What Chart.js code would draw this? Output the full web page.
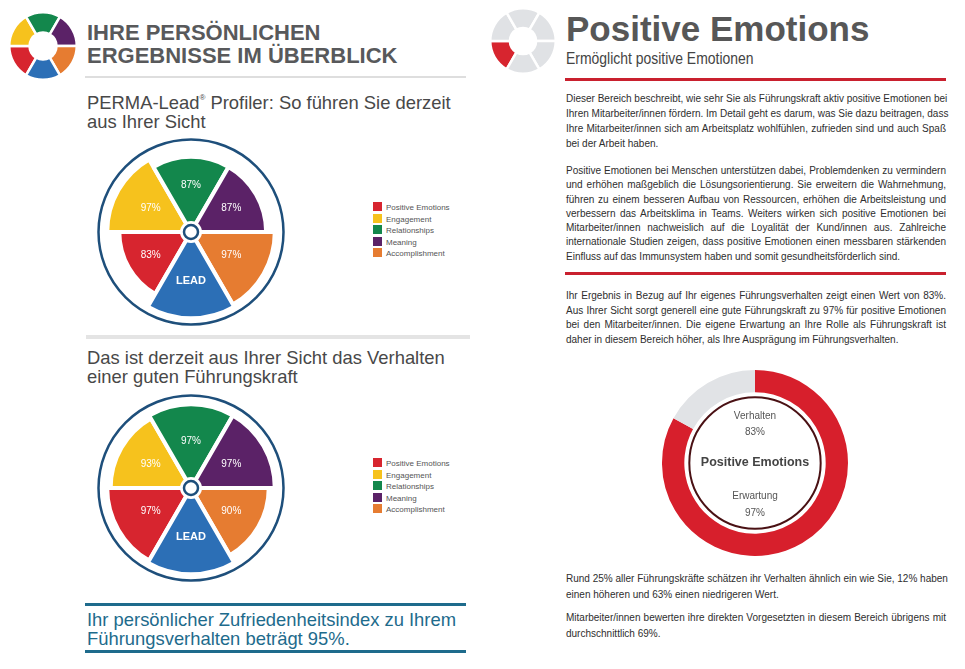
<!DOCTYPE html>
<html>
<head>
<meta charset="utf-8">
<script src="https://cdn.jsdelivr.net/npm/chart.js@4.4.1/dist/chart.umd.min.js"></script>
<style>
body { margin: 0; background: #fff; font-family: "Liberation Sans", Arial, sans-serif; }
#page { position: relative; width: 965px; height: 669px; overflow: hidden; background: #fff; }
.abs { position: absolute; }
canvas { position: absolute; }
.title { left: 87px; font-size: 22px; line-height: 22px; font-weight: bold; color: #58595b; white-space: nowrap; }
.sub { left: 87px; font-size: 18.4px; line-height: 19px; color: #484848; white-space: nowrap; }
.sub sup { font-size: 8px; vertical-align: 9px; line-height: 0; }
.rule { background: #dedede; }
.legend { left: 373px; font-size: 8px; color: #555; }
.legend div { height: 11.5px; line-height: 11.5px; white-space: nowrap; }
.legend span { display: inline-block; width: 9px; height: 9px; margin-right: 4px; vertical-align: -1px; }
.teal { left: 87px; top: 610px; font-size: 18.4px; line-height: 19px; color: #1e6b8c; white-space: nowrap; }
.tealrule { left: 85px; width: 381px; height: 3px; background: #1e6b8c; }
.redrule { left: 565px; width: 381px; height: 3px; background: #c9202e; }
.para { left: 566px; width: 380px; font-size: 10px; line-height: 15px; color: #2e2e2e; }
.para div { text-align: justify; text-align-last: justify; white-space: nowrap; }
.para div.last { text-align-last: left; }
</style>
</head>
<body>
<div id="page">
  <canvas id="logoLeft" width="70" height="70" style="left:8px;top:11px"></canvas>
  <div class="abs title" style="top:22px">IHRE PERSÖNLICHEN</div>
  <div class="abs title" style="top:45px">ERGEBNISSE IM ÜBERBLICK</div>
  <div class="abs rule" style="left:85px;top:76px;width:381px;height:2px"></div>
  <div class="abs sub" style="top:93px">PERMA-Lead<sup>®</sup> Profiler: So führen Sie derzeit<br>aus Ihrer Sicht</div>
  <canvas id="wheelSelf" width="190" height="190" style="left:96px;top:137px"></canvas>
  <div class="abs legend" id="legendSelf" style="top:202px"></div>
  <div class="abs rule" style="left:86px;top:335px;width:384px;height:4px;background:#e4e4e4"></div>
  <div class="abs sub" style="top:348px">Das ist derzeit aus Ihrer Sicht das Verhalten<br>einer guten Führungskraft</div>
  <canvas id="wheelIdeal" width="190" height="190" style="left:96px;top:393px"></canvas>
  <div class="abs legend" id="legendIdeal" style="top:458px"></div>
  <div class="abs tealrule" style="top:603px"></div>
  <div class="abs teal" id="indexText"></div>
  <div class="abs tealrule" style="top:650px"></div>

  <canvas id="logoRight" width="68" height="68" style="left:489px;top:7px"></canvas>
  <div class="abs" style="left:566px;top:11px;font-size:35px;line-height:35px;font-weight:bold;color:#575757;white-space:nowrap">Positive Emotions</div>
  <div class="abs" style="left:566px;top:50px;font-size:17px;line-height:17px;color:#444;white-space:nowrap;transform:scaleX(0.82);transform-origin:left top">Ermöglicht positive Emotionen</div>
  <div class="abs redrule" style="top:78px"></div>

  <div class="abs para" style="top:91px">
    <div>Dieser Bereich beschreibt, wie sehr Sie als Führungskraft aktiv positive Emotionen bei</div>
    <div>Ihren Mitarbeiter/innen fördern. Im Detail geht es darum, was Sie dazu beitragen, dass</div>
    <div>Ihre Mitarbeiter/innen sich am Arbeitsplatz wohlfühlen, zufrieden sind und auch Spaß</div>
    <div class="last">bei der Arbeit haben.</div>
  </div>
  <div class="abs para" style="top:164px;line-height:14.3px">
    <div>Positive Emotionen bei Menschen unterstützen dabei, Problemdenken zu vermindern</div>
    <div>und erhöhen maßgeblich die Lösungsorientierung. Sie erweitern die Wahrnehmung,</div>
    <div>führen zu einem besseren Aufbau von Ressourcen, erhöhen die Arbeitsleistung und</div>
    <div>verbessern das Arbeitsklima in Teams. Weiters wirken sich positive Emotionen bei</div>
    <div>Mitarbeiter/innen nachweislich auf die Loyalität der Kund/innen aus. Zahlreiche</div>
    <div>internationale Studien zeigen, dass positive Emotionen einen messbaren stärkenden</div>
    <div class="last">Einfluss auf das Immunsystem haben und somit gesundheitsförderlich sind.</div>
  </div>
  <div class="abs redrule" style="top:272px"></div>
  <div class="abs para" style="top:289px;line-height:14.7px" id="resultText"></div>

  <canvas id="focusDonut" width="186" height="186" style="left:662px;top:370px"></canvas>

  <div class="abs para" style="top:571px;line-height:16px">
    <div>Rund 25% aller Führungskräfte schätzen ihr Verhalten ähnlich ein wie Sie, 12% haben</div>
    <div class="last">einen höheren und 63% einen niedrigeren Wert.</div>
  </div>
  <div class="abs para" style="top:610px;line-height:16px">
    <div>Mitarbeiter/innen bewerten ihre direkten Vorgesetzten in diesem Bereich übrigens mit</div>
    <div class="last">durchschnittlich 69%.</div>
  </div>
</div>

<script>
// PERMA-Lead Kategorien und Werte
let categories = ['Positive Emotions', 'Engagement', 'Relationships', 'Meaning', 'Accomplishment'];
let selfValues = [83, 97, 87, 87, 97];    // so führen Sie derzeit
let idealValues = [97, 93, 97, 97, 90];   // Verhalten einer guten Führungskraft
let leadLabel = 'LEAD';
let leadValue = 100;
let logoParts = [1, 1, 1, 1, 1, 1];

// Detailseite Positive Emotions
let focusName = 'Positive Emotions';
let behaviourValue = 83;   // Verhalten
let expectationValue = 97; // Erwartung
let indexValue = 95;

let segColors = ['#d7252f', '#f6c21d', '#13874c', '#5b2267', '#e67c31', '#2c6fb6'];
let navy = '#1e4f7b';

document.querySelector('#indexText').innerHTML =
  'Ihr persönlicher Zufriedenheitsindex zu Ihrem<br>Führungsverhalten beträgt ' + indexValue + '%.';

document.querySelector('#resultText').innerHTML =
  '<div>Ihr Ergebnis in Bezug auf Ihr eigenes Führungsverhalten zeigt einen Wert von ' + behaviourValue + '%.</div>' +
  '<div>Aus Ihrer Sicht sorgt generell eine gute Führungskraft zu ' + expectationValue + '% für positive Emotionen</div>' +
  '<div>bei den Mitarbeiter/innen. Die eigene Erwartung an Ihre Rolle als Führungskraft ist</div>' +
  '<div class="last">daher in diesem Bereich höher, als Ihre Ausprägung im Führungsverhalten.</div>';

// Legenden
['#legendSelf', '#legendIdeal'].forEach(sel => {
  let box = document.querySelector(sel);
  categories.forEach((cat, i) => {
    let row = document.createElement('div');
    let sw = document.createElement('span');
    sw.style.background = segColors[i];
    row.appendChild(sw);
    row.appendChild(document.createTextNode(cat));
    box.appendChild(row);
  });
});

// Rahmen, Nabe und Prozentwerte im Rad
let wheelDeco = {
  id: 'wheelDeco',
  afterDatasetsDraw(chart) {
    let ctx = chart.ctx;
    let s = chart.scales.r;
    let cx = s.xCenter, cy = s.yCenter, R = s.drawingArea;
    ctx.save();
    ctx.strokeStyle = navy;
    ctx.lineWidth = 2.5;
    ctx.beginPath();
    ctx.arc(cx, cy, R - 2.5, 0, Math.PI * 2);
    ctx.stroke();
    ctx.fillStyle = '#fff';
    ctx.beginPath();
    ctx.arc(cx, cy, 11, 0, Math.PI * 2);
    ctx.fill();
    ctx.beginPath();
    ctx.arc(cx, cy, 7, 0, Math.PI * 2);
    ctx.stroke();
    ctx.fillStyle = '#fff';
    ctx.textAlign = 'center';
    ctx.textBaseline = 'middle';
    let vals = chart.data.datasets[0].data;
    chart.getDatasetMeta(0).data.forEach((arc, i) => {
      let a = (arc.startAngle + arc.endAngle) / 2;
      let isLead = i === categories.length;
      let rr = R * (isLead ? 0.52 : 0.49);
      ctx.font = (isLead ? 'bold 11px' : '10px') + ' "Liberation Sans", Arial, sans-serif';
      ctx.fillText(isLead ? leadLabel : vals[i] + '%', cx + Math.cos(a) * rr, cy + Math.sin(a) * rr);
    });
    ctx.restore();
  }
};

function makeWheel(id, values) {
  return new Chart(document.querySelector(id), {
    type: 'polarArea',
    data: {
      labels: categories.concat([leadLabel]),
      datasets: [{
        data: values.concat([leadValue]),
        backgroundColor: segColors,
        borderColor: '#fff',
        borderWidth: 4
      }]
    },
    options: {
      responsive: false,
      animation: false,
      layout: { padding: 0 },
      plugins: { legend: { display: false }, tooltip: { enabled: false } },
      scales: { r: { min: 0, max: 110, startAngle: 210, display: false } }
    },
    plugins: [wheelDeco]
  });
}

makeWheel('#wheelSelf', selfValues);
makeWheel('#wheelIdeal', idealValues);

function makeLogo(id, colors) {
  return new Chart(document.querySelector(id), {
    type: 'doughnut',
    data: {
      labels: categories.concat([leadLabel]),
      datasets: [{ data: logoParts, backgroundColor: colors, borderColor: '#fff', borderWidth: 2.5 }]
    },
    options: {
      responsive: false,
      animation: false,
      rotation: 210,
      cutout: '40%',
      plugins: { legend: { display: false }, tooltip: { enabled: false } }
    }
  });
}

makeLogo('#logoLeft', segColors);
makeLogo('#logoRight', segColors.map((c, i) => i === 0 ? '#d7252f' : '#e0e2e5'));

// Ring Positive Emotions
let donutCenter = {
  id: 'donutCenter',
  afterDatasetsDraw(chart) {
    let ctx = chart.ctx;
    let arc = chart.getDatasetMeta(0).data[0];
    let cx = arc.x, cy = arc.y;
    ctx.save();
    ctx.strokeStyle = '#4a1114';
    ctx.lineWidth = 2;
    ctx.beginPath();
    ctx.arc(cx, cy, arc.innerRadius - 5, 0, Math.PI * 2);
    ctx.stroke();
    ctx.textAlign = 'center';
    ctx.textBaseline = 'middle';
    ctx.fillStyle = '#555';
    ctx.font = '10px "Liberation Sans", Arial, sans-serif';
    ctx.fillText('Verhalten', cx, cy - 47);
    ctx.fillText(behaviourValue + '%', cx, cy - 31);
    ctx.fillText('Erwartung', cx, cy + 33);
    ctx.fillText(expectationValue + '%', cx, cy + 50);
    ctx.fillStyle = '#444';
    ctx.font = 'bold 12.5px "Liberation Sans", Arial, sans-serif';
    ctx.fillText(focusName, cx, cy);
    ctx.restore();
  }
};

new Chart(document.querySelector('#focusDonut'), {
  type: 'doughnut',
  data: {
    labels: ['Verhalten', ''],
    datasets: [{
      data: [behaviourValue, 100 - behaviourValue],
      backgroundColor: ['#d71f2c', '#e1e3e6'],
      borderWidth: 0
    }]
  },
  options: {
    responsive: false,
    animation: false,
    cutout: '76%',
    plugins: { legend: { display: false }, tooltip: { enabled: false } }
  },
  plugins: [donutCenter]
});
</script>
</body>
</html>
